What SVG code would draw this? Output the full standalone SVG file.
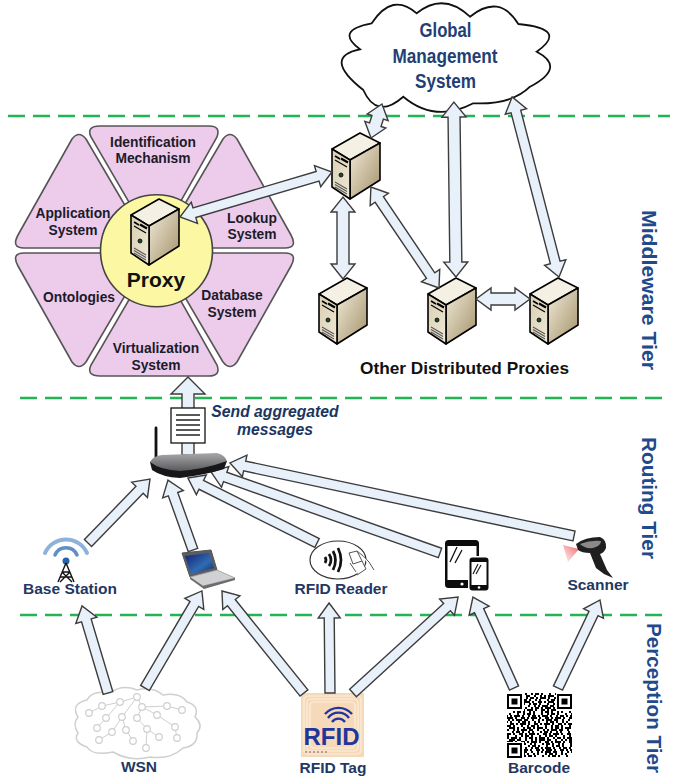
<svg xmlns="http://www.w3.org/2000/svg" width="675" height="776" viewBox="0 0 675 776">
<style>
text{font-family:"Liberation Sans",Arial,sans-serif;font-weight:bold}
.tier{stroke:#22b455;stroke-width:2.6;stroke-dasharray:17 8;fill:none}
.wedge{fill:#edcbea;stroke:#555;stroke-width:1.6}
.hx{font-size:13.8px;fill:#1b1b2b;text-anchor:middle}
.blue{fill:#1f3f75;text-anchor:middle;font-size:19.5px}
.lbl{font-size:15.5px;fill:#1f3864;text-anchor:middle}
.msg{font-size:15.7px;font-style:italic;fill:#1a3560;text-anchor:middle}
.side{font-size:20.5px;fill:#1f4a8c}
.arr{fill:#e8f0fa;stroke:#3c3c3c;stroke-width:1.4;stroke-linejoin:miter}
.q{stroke:#000;stroke-width:2;fill:none}
.a{stroke-dasharray:2 2 4 2 2 6 2 4}
.b{stroke-dasharray:4 2 2 2 6 2 2 4 2 2}
.c{stroke-dasharray:2 4 2 2 2 2 6 2 4 4}
.d{stroke-dasharray:6 2 2 4 4 2 2 2}
.e{stroke-dasharray:2 2 2 6 2 2 4 2 2 4}
.n{fill:#fff;stroke:#cfcfcf;stroke-width:1.2}
.wl{stroke:#cfcfcf;stroke-width:1;fill:none}
.rf{fill:none;stroke:#fbeedd;stroke-width:1.2}
</style>
<defs>
<linearGradient id="sr" x1="0" y1="0" x2="1" y2="1"><stop offset="0" stop-color="#f2ebd9"/><stop offset="1" stop-color="#a3926a"/></linearGradient>
<linearGradient id="sf" x1="0" y1="0" x2="1" y2="1"><stop offset="0" stop-color="#d9cfb4"/><stop offset="1" stop-color="#efe8d4"/></linearGradient>
<linearGradient id="beam" x1="1" y1="0" x2="0" y2="1"><stop offset="0" stop-color="#ee5a5c"/><stop offset="1" stop-color="#f7b9b9" stop-opacity=".3"/></linearGradient>
<linearGradient id="scr" x1="0" y1="0" x2="1" y2="1"><stop offset="0" stop-color="#16206e"/><stop offset=".6" stop-color="#2f6cb4"/><stop offset="1" stop-color="#162a5a"/></linearGradient>
<linearGradient id="rt" x1="0" y1="0" x2="0" y2="1"><stop offset="0" stop-color="#a8a8aa"/><stop offset="1" stop-color="#5a5a5e"/></linearGradient>
<g id="srv" stroke="#000" stroke-width="1.6" stroke-linejoin="round">
<polygon points="0,16 28,0 48,10 18,27" fill="#f4f0e3"/>
<polygon points="18,27 48,10 48,47 18,66" fill="url(#sr)"/>
<polygon points="0,16 18,27 18,66 0,54" fill="url(#sf)"/>
<g fill="none">
<path d="M3,23 L8,26" stroke-width="1.6"/><path d="M9,25.5 L16,29.5" stroke-width="2.2"/><path d="M3,27 L15,34" stroke-width="1.2"/>
<path d="M3,49 L15,56 M3,51.5 L15,58.5 M3,54 L15,61" stroke="#5a5a5a" stroke-width="1.1"/>
</g>
<circle cx="9" cy="42" r="2" fill="#1d4a30" stroke-width=".8"/>
</g>
</defs>
<rect width="675" height="776" fill="#fff"/>
<g id="tiers">
<path class="tier" d="M8,116 H670"/>
<path class="tier" d="M20,398 H668"/>
<path class="tier" d="M20,615 H668"/>
</g>
<g id="global-management">
<path d="M360,49.3 Q334.2,30.3 371.7,23.3 Q392.4,-8.3 416.7,13.3 Q443.3,-8.4 470,16.7 Q499.2,-6.9 518.3,24 Q569.1,28.8 536.7,51.7 Q566.7,67.4 530,86.7 Q511.7,105 473.3,103.3 Q435.1,123.4 403.3,96.7 Q376.7,120.1 363.3,90 Q321.7,57 360,49.3 Z" fill="#fff" stroke="#111" stroke-width="1.8"/>
<text class="blue" x="445.5" y="37" textLength="52" lengthAdjust="spacingAndGlyphs">Global</text>
<text class="blue" x="445" y="63" textLength="105" lengthAdjust="spacingAndGlyphs">Management</text>
<text class="blue" x="445.5" y="88" textLength="61" lengthAdjust="spacingAndGlyphs">System</text>
</g>
<g id="hex-identification"><path class="wedge" d="M100,126 H209 Q221,126 217,137 L155,247 L91,137 Q86,126 100,126 Z"/><text class="hx" x="153" y="147">Identification</text><text class="hx" x="153" y="163">Mechanism</text></g>
<g id="hex-application"><path class="wedge" d="M72,139 Q79,130 86,139 L150,248 H24 Q11,248 18,235 Z"/><text class="hx" x="73" y="218">Application</text><text class="hx" x="73" y="235">System</text></g>
<g id="hex-lookup"><path class="wedge" d="M237,139 Q230,130 223,139 L159,248 H285 Q298,248 291,235 Z"/><text class="hx" x="252" y="223">Lookup</text><text class="hx" x="252" y="239">System</text></g>
<g id="hex-ontologies"><path class="wedge" d="M72,362 Q79,371 86,362 L150,253 H24 Q11,253 18,266 Z"/><text class="hx" x="79" y="302">Ontologies</text></g>
<g id="hex-database"><path class="wedge" d="M237,362 Q230,371 223,362 L159,253 H285 Q298,253 291,266 Z"/><text class="hx" x="232" y="300">Database</text><text class="hx" x="232" y="317">System</text></g>
<g id="hex-virtualization"><path class="wedge" d="M100,376 H209 Q221,376 217,365 L155,255 L91,365 Q86,376 100,376 Z"/><text class="hx" x="156" y="353">Virtualization</text><text class="hx" x="156" y="370">System</text></g>
<g id="proxy">
<circle cx="156.5" cy="250.7" r="56" fill="#fbf7a2" stroke="#444" stroke-width="1.6"/>
<use href="#srv" transform="translate(131 199)"/>
<text x="156" y="287" font-size="21" fill="#111" text-anchor="middle">Proxy</text>
</g>
<g id="server-1"><use href="#srv" transform="translate(332 133)"/></g>
<g id="server-2"><use href="#srv" transform="translate(319 278)"/></g>
<g id="server-3"><use href="#srv" transform="translate(428 278)"/></g>
<g id="server-4"><use href="#srv" transform="translate(530 278)"/></g>
<text id="other-proxies" x="464.5" y="374" font-size="16.5" fill="#111" text-anchor="middle" textLength="209" lengthAdjust="spacingAndGlyphs">Other Distributed Proxies</text>
<g id="base-station">
<g fill="none" stroke-linecap="round"><path d="M55,555 A12,12 0 0 1 77,555" stroke="#5f8fc6" stroke-width="3.5"/><path d="M45,553 A23,23 0 0 1 87,553" stroke="#8fb2da" stroke-width="4"/></g>
<circle cx="66" cy="561" r="3.5" fill="#2462a8"/>
<path d="M66,563 L58,582 M66,563 L74,582 M62,572 L70,572 M60,577 L72,577 M62,572 L72,582 M70,572 L60,582" stroke="#111" stroke-width="1.4" fill="none"/>
<text class="lbl" x="70" y="594">Base Station</text>
</g>
<g id="laptop">
<polygon points="182,553 211,550 217,570 190,577" fill="#5c5c66" stroke="#555" stroke-width="1"/>
<polygon points="185,556 209,553 214,568 191,574" fill="url(#scr)"/>
<polygon points="190,577 217,570 235,578 203,586" fill="#d0d1d3" stroke="#999" stroke-width=".8"/>
<path d="M203,586 L235,578 L235,580 L204,589 L190,579 L190,577 Z" fill="#6c6c6c"/>
</g>
<g id="rfid-reader">
<ellipse cx="338" cy="560" rx="28" ry="19" fill="#fff" stroke="#333" stroke-width="1.2"/>
<g fill="none" stroke="#111" stroke-width="2.7"><path d="M325,557 Q327,560 325,563"/><path d="M329,554 Q333,560 329,566"/><path d="M333,551 Q338,560 333,570"/><path d="M338,548 Q344,560 338,572"/></g>
<path d="M349,553 L357,551 L362,561 L353,564 Z M357,551 Q364,556 369,562 L374,570 M362,561 L366,569 L357,575 M350,563 L356,572" fill="#fff" stroke="#555" stroke-width="1"/>
<text class="lbl" x="341" y="594">RFID Reader</text>
</g>
<g id="phones">
<rect x="445" y="540" width="34" height="48" rx="3.5" fill="#0c0c0c"/>
<rect x="447.5" y="546" width="29" height="34" fill="#fff"/>
<path d="M450,562 L457,547 M455,563 L462,550" stroke="#111" stroke-width="1.3"/>
<circle cx="462" cy="584" r="1.6" fill="#fff"/>
<rect x="468" y="556" width="22" height="36" rx="3.5" fill="#fff"/>
<rect x="469.5" y="557.5" width="19" height="33" rx="3" fill="#0c0c0c"/>
<rect x="471.5" y="562" width="15" height="23" fill="#fff"/>
<path d="M473,574 L478,564 M476,574 L481,565" stroke="#111" stroke-width="1.1"/>
<circle cx="479" cy="587.5" r="1.3" fill="#fff"/>
</g>
<g id="scanner">
<polygon points="563,545 579,549 568,562" fill="url(#beam)"/>
<path d="M576,544 Q585,537 600,537 Q607,540 606,548 Q604,553 600,554 L607,570 L613,578 L604,574 L596,568 L590,553 Q582,553 578,550 Z" fill="#1f1f1f"/>
<path d="M580,544 Q590,540 601,541 Q601,546 593,548 Q585,549 580,544 Z" fill="#8a8a8a"/>
<text class="lbl" x="598" y="590">Scanner</text>
</g>
<g id="wsn">
<path d="M78,717 Q70,704 87,700 Q92,690 110,693 Q122,684 137,690 Q152,686 163,695 Q180,692 187,702 Q200,706 195,717 Q204,725 197,733 Q198,746 183,748 Q170,760 150,757 Q130,762 113,752 Q92,756 87,747 Q72,742 78,733 Q72,724 78,717 Z" fill="#fff" stroke="#cfcfcf" stroke-width="1.5"/>
<path class="wl" d="M89,713 L102,706 L120,702 L137,697 L142,707 L167,706 M142,707 L157,715 L175,727 L177,738 M142,707 L137,718 L147,729 L159,737 M147,729 L146,748 M120,702 L106,718 L97,728 M137,697 L122,717 L112,732 L99,740 M122,717 L126,730 L133,741 M167,706 L182,710"/>
<g class="n"><circle cx="89" cy="713" r="3.3"/><circle cx="102" cy="706" r="3.3"/><circle cx="120" cy="702" r="3.3"/><circle cx="137" cy="697" r="3.3"/><circle cx="142" cy="707" r="3.3"/><circle cx="167" cy="706" r="3.3"/><circle cx="182" cy="710" r="3.3"/><circle cx="157" cy="715" r="3.3"/><circle cx="137" cy="718" r="3.3"/><circle cx="122" cy="717" r="3.3"/><circle cx="106" cy="718" r="3.3"/><circle cx="97" cy="728" r="3.3"/><circle cx="112" cy="732" r="3.3"/><circle cx="126" cy="730" r="3.3"/><circle cx="147" cy="729" r="3.3"/><circle cx="175" cy="727" r="3.3"/><circle cx="159" cy="737" r="3.3"/><circle cx="177" cy="738" r="3.3"/><circle cx="133" cy="741" r="3.3"/><circle cx="99" cy="740" r="3.3"/><circle cx="146" cy="748" r="3.3"/></g>
<text class="lbl" x="139" y="772">WSN</text>
</g>
<g id="rfid-tag">
<rect x="301" y="693" width="63" height="64" fill="#f6d9b8"/>
<rect class="rf" x="304" y="696" width="57" height="58" rx="4"/><rect class="rf" x="307" y="699" width="51" height="52" rx="4"/><rect class="rf" x="310" y="702" width="45" height="46" rx="4"/>
<g fill="none" stroke="#22359a" stroke-width="2.4"><path d="M332,722 A8,8 0 0 1 345,722"/><path d="M328,718 A13,13 0 0 1 349,718"/><path d="M325,714 A18,18 0 0 1 352,714"/></g>
<text x="331.5" y="745" font-size="24" fill="#22359a" text-anchor="middle">RFID</text>
<path d="M305,752 H327" stroke="#667" stroke-width="1.2" stroke-dasharray="2 2"/>
<text class="lbl" x="333" y="773">RFID Tag</text>
</g>
<g id="barcode">
<line class="q a" x1="507" x2="572" y1="694" y2="694"/><line class="q c" x1="507" x2="572" y1="696" y2="696" stroke-dashoffset="3"/><line class="q b" x1="507" x2="572" y1="698" y2="698" stroke-dashoffset="5"/><line class="q e" x1="507" x2="572" y1="700" y2="700"/><line class="q d" x1="507" x2="572" y1="702" y2="702" stroke-dashoffset="7"/><line class="q a" x1="507" x2="572" y1="704" y2="704" stroke-dashoffset="2"/><line class="q c" x1="507" x2="572" y1="706" y2="706" stroke-dashoffset="9"/><line class="q b" x1="507" x2="572" y1="708" y2="708"/><line class="q d" x1="507" x2="572" y1="710" y2="710" stroke-dashoffset="4"/><line class="q e" x1="507" x2="572" y1="712" y2="712" stroke-dashoffset="6"/><line class="q a" x1="507" x2="572" y1="714" y2="714" stroke-dashoffset="8"/><line class="q b" x1="507" x2="572" y1="716" y2="716" stroke-dashoffset="3"/><line class="q d" x1="507" x2="572" y1="718" y2="718"/><line class="q c" x1="507" x2="572" y1="720" y2="720" stroke-dashoffset="5"/><line class="q e" x1="507" x2="572" y1="722" y2="722" stroke-dashoffset="1"/><line class="q d" x1="507" x2="572" y1="724" y2="724" stroke-dashoffset="11"/><line class="q a" x1="507" x2="572" y1="726" y2="726" stroke-dashoffset="4"/><line class="q b" x1="507" x2="572" y1="728" y2="728" stroke-dashoffset="8"/><line class="q c" x1="507" x2="572" y1="730" y2="730"/><line class="q e" x1="507" x2="572" y1="732" y2="732" stroke-dashoffset="7"/><line class="q d" x1="507" x2="572" y1="734" y2="734" stroke-dashoffset="2"/><line class="q a" x1="507" x2="572" y1="736" y2="736" stroke-dashoffset="10"/><line class="q b" x1="507" x2="572" y1="738" y2="738" stroke-dashoffset="6"/><line class="q c" x1="507" x2="572" y1="740" y2="740" stroke-dashoffset="12"/><line class="q d" x1="507" x2="572" y1="742" y2="742"/><line class="q e" x1="507" x2="572" y1="744" y2="744" stroke-dashoffset="5"/><line class="q a" x1="507" x2="572" y1="746" y2="746" stroke-dashoffset="3"/><line class="q b" x1="507" x2="572" y1="748" y2="748"/><line class="q d" x1="507" x2="572" y1="750" y2="750" stroke-dashoffset="9"/><line class="q c" x1="507" x2="572" y1="752" y2="752" stroke-dashoffset="6"/><line class="q e" x1="507" x2="572" y1="754" y2="754" stroke-dashoffset="2"/><line class="q a" x1="507" x2="572" y1="756" y2="756" stroke-dashoffset="7"/>
<g fill="#fff"><rect x="506" y="693" width="18" height="18"/><rect x="556" y="693" width="18" height="18"/><rect x="506" y="742" width="18" height="18"/></g>
<g fill="none" stroke="#000" stroke-width="2"><rect x="508" y="695" width="13" height="13"/><rect x="558" y="695" width="13" height="13"/><rect x="508" y="744" width="13" height="13"/></g>
<g fill="#000"><rect x="511.5" y="698.5" width="6" height="6"/><rect x="561.5" y="698.5" width="6" height="6"/><rect x="511.5" y="747.5" width="6" height="6"/></g>
<text class="lbl" x="539" y="773">Barcode</text>
</g>
<g id="connectors" class="arr">
<polygon transform="translate(180 217) rotate(-16.5)" points="0,0 15,-11 15,-5 143.5,-5 143.5,-11 158.5,0 143.5,11 143.5,5 15,5 15,11"/>
<polygon transform="translate(371 138) rotate(-72.1)" points="0,0 14,-11 14,-6 21.7,-6 21.7,-11 35.7,0 21.7,11 21.7,6 14,6 14,11"/>
<polygon transform="translate(456 277) rotate(-90.7)" points="0,0 15,-12 15,-6 160,-6 160,-12 175,0 160,12 160,6 15,6 15,12"/>
<polygon transform="translate(559 277) rotate(-104.6)" points="0,0 15,-11 15,-5 171,-5 171,-11 186,0 171,11 171,5 15,5 15,11"/>
<polygon transform="translate(343 279) rotate(-90)" points="0,0 15,-12 15,-6 67,-6 67,-12 82,0 67,12 67,6 15,6 15,12"/>
<polygon transform="translate(439 288) rotate(-124)" points="0,0 15,-11 15,-5 106.8,-5 106.8,-11 121.8,0 106.8,11 106.8,5 15,5 15,11"/>
<polygon transform="translate(476 299)" points="0,0 15,-11 15,-6 39,-6 39,-11 54,0 39,11 39,6 15,6 15,11"/>
<polygon transform="translate(188 455) rotate(-90)" points="0,-6 61,-6 61,-17 78,0 61,17 61,6 0,6"/>
<polygon transform="translate(88 543) rotate(-45.9)" points="0,-5 74.1,-5 74.1,-11 89.1,0 74.1,11 74.1,5 0,5"/>
<polygon transform="translate(193 550) rotate(-109.7)" points="0,-5 59.3,-5 59.3,-11 74.3,0 59.3,11 59.3,5 0,5"/>
<polygon transform="translate(317 543) rotate(-153.3)" points="0,-5 129.5,-5 129.5,-11 144.5,0 129.5,11 129.5,5 0,5"/>
<polygon transform="translate(440 553) rotate(-160.5)" points="0,-5 227.9,-5 227.9,-11 242.9,0 227.9,11 227.9,5 0,5"/>
<polygon transform="translate(574 536) rotate(-168)" points="0,-5 336.7,-5 336.7,-11 351.7,0 336.7,11 336.7,5 0,5"/>
<polygon transform="translate(108 693) rotate(-106.6)" points="0,-5 75.8,-5 75.8,-11 90.8,0 75.8,11 75.8,5 0,5"/>
<polygon transform="translate(145 688) rotate(-59.6)" points="0,-5 97.5,-5 97.5,-11 112.5,0 97.5,11 97.5,5 0,5"/>
<polygon transform="translate(304 693) rotate(-128.8)" points="0,-5 115.9,-5 115.9,-11 130.9,0 115.9,11 115.9,5 0,5"/>
<polygon transform="translate(330 693) rotate(-90.6)" points="0,-5 75,-5 75,-11 90,0 75,11 75,5 0,5"/>
<polygon transform="translate(353 693) rotate(-42.4)" points="0,-5 127.3,-5 127.3,-11 142.3,0 127.3,11 127.3,5 0,5"/>
<polygon transform="translate(514 688) rotate(-114.3)" points="0,-5 84.8,-5 84.8,-11 99.8,0 84.8,11 84.8,5 0,5"/>
<polygon transform="translate(558 688) rotate(-64.5)" points="0,-5 82.5,-5 82.5,-11 97.5,0 82.5,11 82.5,5 0,5"/>
</g>
<g id="message">
<rect x="171" y="408" width="34" height="35" fill="#fff" stroke="#111" stroke-width="1.3"/>
<path d="M176,415 H200 M176,420 H200 M176,425 H200 M176,430 H200 M176,435 H200" stroke="#222" stroke-width="1.4" fill="none"/>
<text class="msg" x="275" y="417">Send aggregated</text>
<text class="msg" x="275" y="435">messages</text>
</g>
<g id="router">
<path d="M156,428 V458" stroke="#111" stroke-width="2.8" stroke-linecap="round"/>
<path d="M150,462 L152,470 Q162,477 180,478 Q205,475 224,469 L227,461 Z" fill="#17171a"/>
<path d="M150,462 Q153,456 162,455 L217,453 Q225,455 227,461 Q205,469 180,471 Q160,470 150,462 Z" fill="url(#rt)"/>
</g>
<g id="tier-labels">
<text class="side" transform="translate(642 210) rotate(90)" textLength="160" lengthAdjust="spacingAndGlyphs">Middleware Tier</text>
<text class="side" transform="translate(642 437) rotate(90)" textLength="122" lengthAdjust="spacingAndGlyphs">Routing Tier</text>
<text class="side" transform="translate(647 623) rotate(90)" textLength="150" lengthAdjust="spacingAndGlyphs">Perception Tier</text>
</g>
</svg>
